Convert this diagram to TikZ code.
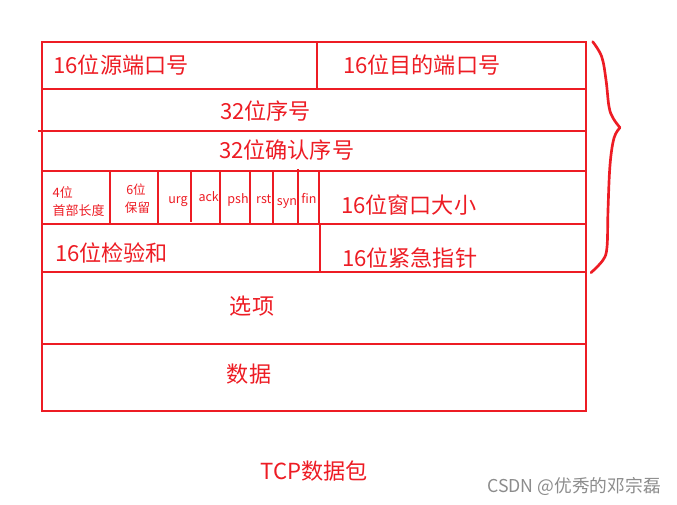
\documentclass[tikz,border=0pt]{standalone}
\usepackage{fontspec}
\setmainfont{Noto Sans CJK SC}
\definecolor{pred}{RGB}{237,28,36}
\definecolor{wmgray}{RGB}{140,140,140}
\begin{document}
\begin{tikzpicture}[x=0.75pt,y=-0.75pt,
  frame/.style={draw=pred,line width=1.5pt},
  big/.style={anchor=base west,inner sep=0,outer sep=0,text=pred,font=\fontsize{16.6}{19}\selectfont},
  small/.style={anchor=base,inner sep=0,outer sep=0,text=pred,font=\fontsize{9.4}{11}\selectfont},
  smallw/.style={anchor=base west,inner sep=0,outer sep=0,text=pred,font=\fontsize{9.7}{11}\selectfont}]
\useasboundingbox (0,0) rectangle (677,505);
% outer frame and rows
\draw[frame] (42,42) rectangle (586,411);
\draw[frame] (42,89) -- (586,89);
\draw[frame] (38,131) -- (586,131);
\draw[frame] (42,171) -- (586,171);
\draw[frame] (42,224) -- (586,224);
\draw[frame] (42,272) -- (586,272);
\draw[frame] (42,344) -- (586,344);
% vertical dividers
\draw[frame] (317,42) -- (317,89);
\foreach \x in {110,158,220,250,273,319} \draw[frame] (\x,171) -- (\x,224);
\draw[frame] (191,171) -- (191,222);
\draw[frame] (298,169) -- (298,224);
\draw[frame] (320,224) -- (320,272);
% brace
\draw[pred,line width=2pt,line cap=round,line join=round]
  plot[smooth,tension=0.6] coordinates {(592.7,41.7) (601.7,56.7) (606,80) (609,106.7) (613,118) (620,127.7)}
  plot[smooth,tension=0.6] coordinates {(620,127.7) (614,138) (610,165) (608,210) (607,247) (603,260) (591,272.7)};
% texts
\node[big] (src) at (53.4,73.3) {16位源端口号};
\node[big] (dst) at (343,73.3) {16位目的端口号};
\node[big] (seq) at (220,120) {32位序号};
\node[big] (ack) at (219,158.3) {32位确认序号};
\node[smallw] (hl1) at (52.7,197.7) {4位};
\node[smallw] (hl2) at (52.7,216) {首部长度};
\node[small] (rs1) at (136,195) {6位};
\node[small] (rs2) at (137.5,212.7) {保留};
\node[small] (urg) at (178,204) {urg};
\node[small] (fack) at (208.7,201.7) {ack};
\node[small] (psh) at (238,204) {psh};
\node[small] (rst) at (263.8,204) {rst};
\node[small] (syn) at (287,206) {syn};
\node[small] (fin) at (309,203.3) {fin};
\node[big] (win) at (341,213.3) {16位窗口大小};
\node[big] (chk) at (55,261.7) {16位检验和};
\node[big] (urp) at (342,266.7) {16位紧急指针};
\node[big,anchor=base] (opt) at (252,315) {选项};
\node[big,anchor=base] (data) at (249,382) {数据};
\node[big] (title) at (260.7,479.3) {TCP数据包};
\node[anchor=base east,inner sep=0,text=wmgray,font=\fontsize{13.3}{15}\selectfont] (wm) at (661,492.7) {CSDN @优秀的邓宗磊};
\end{tikzpicture}
\end{document}
